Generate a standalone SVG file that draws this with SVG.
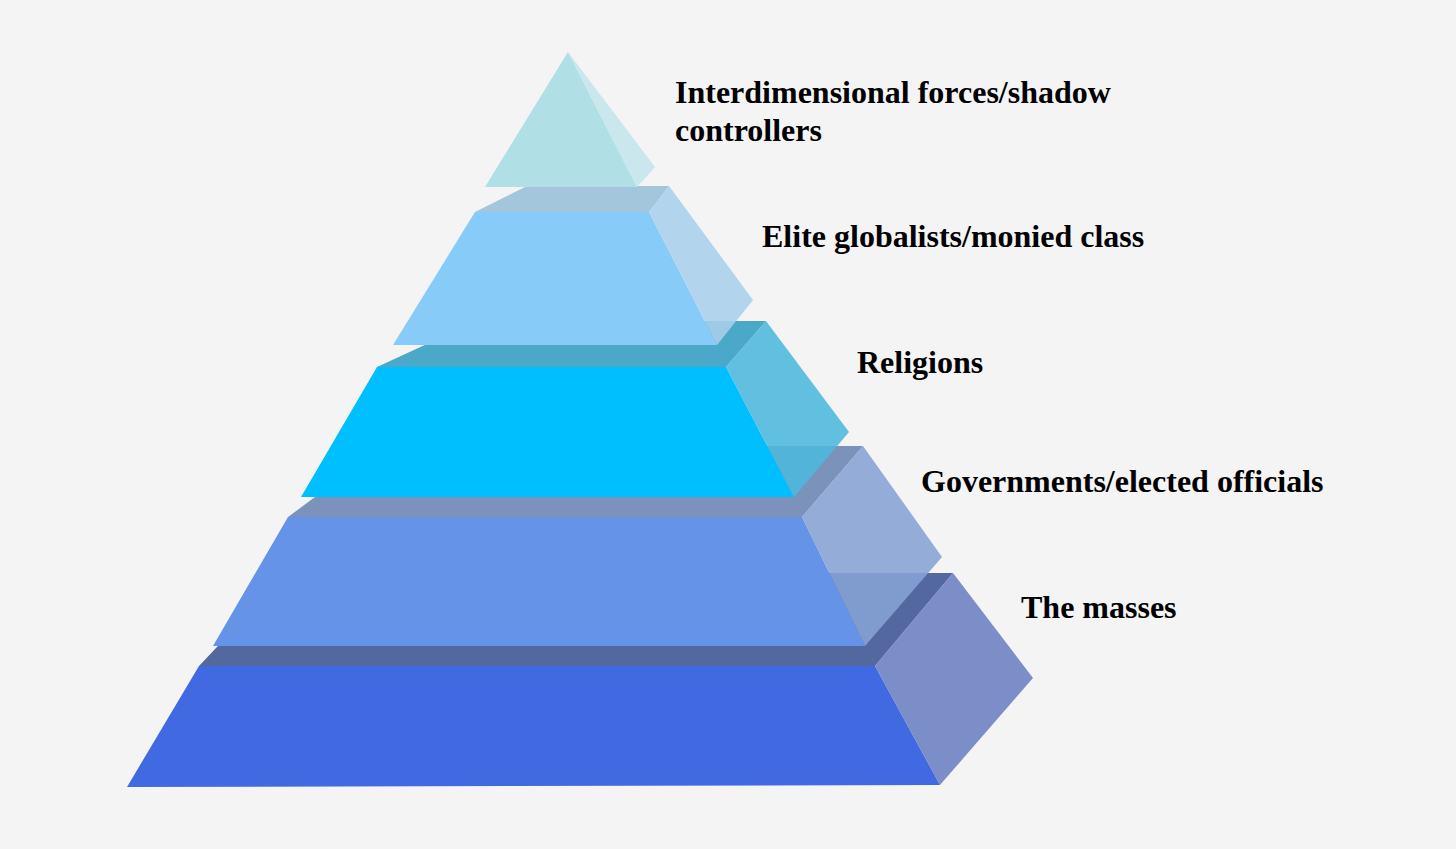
<svg xmlns="http://www.w3.org/2000/svg" width="1456" height="849" viewBox="0 0 1456 849">
<style>
.lbl{font-family:"Liberation Serif","Times New Roman",serif;font-weight:bold;font-size:32px;fill:#000}
.side{opacity:0.88}
</style>
<rect x="0" y="0" width="1456" height="849" fill="#f4f4f4"/>
<g id="tier5">
<polygon points="287,573 953,573 875,666 199,666" fill="#5468a0"/>
<polygon points="199,666 875,666 940,785 127,787" fill="#4169e1"/>
<polygon class="side" points="875,666 953,573 1033,678 940,785" fill="#6a80c2"/>
</g>
<g id="tier4">
<polygon points="384,446 863,446 802,517 288,517" fill="#7b93bb"/>
<polygon points="288,517 802,517 865,646 213,646" fill="#6593e8"/>
<polygon class="side" points="802,517 863,446 942,557 865,646" fill="#86a2d4"/>
</g>
<g id="tier3">
<polygon points="477,321 766,321 726,367 377,367" fill="#4aa8c9"/>
<polygon points="377,367 726,367 794,497 301,497" fill="#00bfff"/>
<polygon class="side" points="726,367 766,321 849,432 794,497" fill="#4cb8dd"/>
</g>
<g id="tier2">
<polygon points="527,186 669,186 649,212 475,212" fill="#a4c6dd"/>
<polygon points="475,212 649,212 717,345 393,345" fill="#87cbf8"/>
<polygon class="side" points="649,212 669,186 753,300 717,345" fill="#a8cfeb"/>
</g>
<g id="tier1">
<polygon points="568,52 637,187 485,187" fill="#b0dfe5"/>
<polygon class="side" points="568,52 655,167 637,187" fill="#c3e5ea"/>
</g>
<g id="labels">
<text class="lbl" x="675" y="103">Interdimensional forces/shadow</text>
<text class="lbl" x="675" y="141">controllers</text>
<text class="lbl" x="762" y="247">Elite globalists/monied class</text>
<text class="lbl" x="857" y="373">Religions</text>
<text class="lbl" x="921" y="492">Governments/elected officials</text>
<text class="lbl" x="1021" y="618">The masses</text>
</g>
</svg>
